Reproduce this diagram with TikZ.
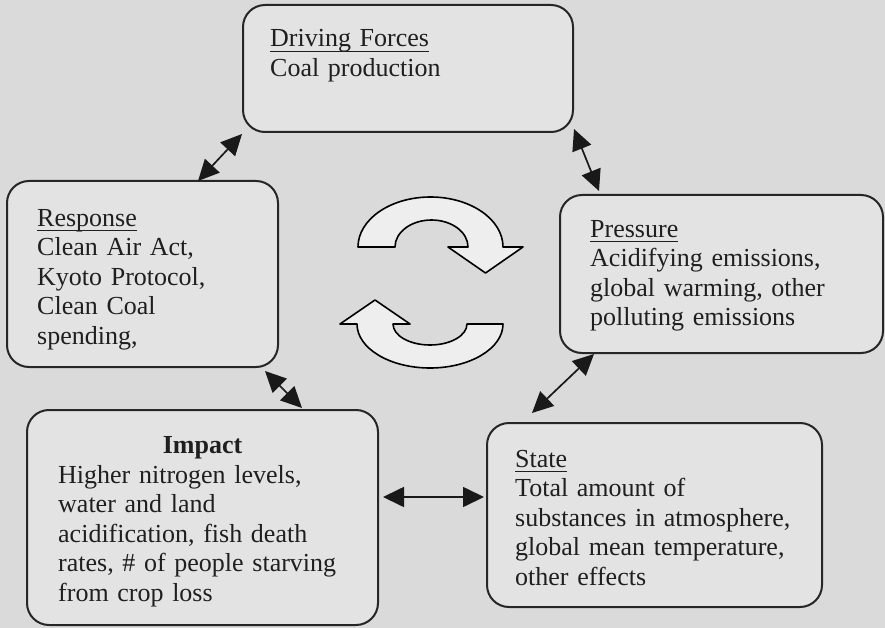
\documentclass[tikz,border=0pt]{standalone}
\usepackage{fontspec}
\setmainfont{Liberation Serif}
\usetikzlibrary{arrows.meta,calc}
\definecolor{bg}{RGB}{218,218,218}
\definecolor{boxfill}{RGB}{227,227,227}
\definecolor{boxline}{RGB}{38,38,38}
\definecolor{cycfill}{RGB}{238,238,238}
\newcommand{\myul}[1]{\setbox0=\hbox{#1}\rlap{\rule[-5pt]{\wd0}{1.4pt}}\box0}
\begin{document}
\begin{tikzpicture}[x=1pt,y=-1pt,
  box/.style={draw=boxline, line width=2pt, rounded corners=22pt, fill=boxfill, inner sep=0pt},
  txt/.style={anchor=base west, inner sep=0pt, text width=340pt, align=left, font=\fontsize{26}{29.5}\selectfont, text=black!88},
  link/.style={line width=1.7pt, draw=black!90, {Triangle[length=21pt,width=20pt]}-{Triangle[length=21pt,width=20pt]}},
  cyc/.style={draw=black, line width=1.6pt, fill=cycfill, line join=round}]
\useasboundingbox (0,0) rectangle (885,628);
\fill[bg] (0,0) rectangle (885,628);

% boxes
\node[box, minimum width=330pt, minimum height=127pt] (df) at (408,68.5) {};
\node[box, minimum width=271pt, minimum height=186pt] (resp) at (142.5,274) {};
\node[box, minimum width=323pt, minimum height=158pt] (pres) at (721.5,274) {};
\node[box, minimum width=351pt, minimum height=215pt] (imp) at (202.5,517.5) {};
\node[box, minimum width=335pt, minimum height=184pt] (state) at (654.5,515) {};

% texts
\node[txt] (dft) at (270,47) {\myul{Driving Forces}\\Coal production};
\node[txt] (respt) at (37,226) {\myul{Response}\\Clean Air Act,\\Kyoto Protocol,\\Clean Coal\\spending,};
\node[txt] (prest) at (590,237) {\myul{Pressure}\\Acidifying emissions,\\global warming, other\\polluting emissions};
\node[txt] (statet) at (515,467) {\myul{State}\\Total amount of\\substances in atmosphere,\\global mean temperature,\\other effects};
\node[anchor=base, inner sep=0pt, font=\fontsize{26}{29.5}\selectfont\bfseries, text=black!88] (impt) at (202.5,453) {Impact};
\node[txt] (impb) at (58,483) {Higher nitrogen levels,\\water and land\\acidification, fish death\\rates, \# of people starving\\from crop loss};

% connectors
\draw[link] ($(df.south west)+(0,1)$) -- ($(resp.north east)+(-81,1)$);
\draw[link] ($(df.south east)+(0,-4)$) -- ($(pres.north west)+(40,-3)$);
\draw[link] ($(pres.south west)+(35,0)$) -- ($(state.north west)+(46,-9)$);
\draw[link] ($(resp.south east)+(-14,3)$) -- ($(imp.north east)+(-77,-1)$);
\draw[link] ($(imp.north east)+(4,88)$) -- ($(state.north west)+(-2,75)$);

% cycle arrows
\draw[cyc] (358,247) arc[start angle=180,end angle=360,x radius=72.5,y radius=50]
  -- (523,247) -- (485.5,273) -- (448,247) -- (468,247)
  arc[start angle=0,end angle=-180,x radius=36.5,y radius=27] -- cycle;
\draw[cyc] (503,324) arc[start angle=0,end angle=180,x radius=73,y radius=44]
  -- (340,324) -- (375,300) -- (410,324) -- (393,324)
  arc[start angle=180,end angle=0,x radius=37,y radius=21] -- cycle;
\end{tikzpicture}
\end{document}
